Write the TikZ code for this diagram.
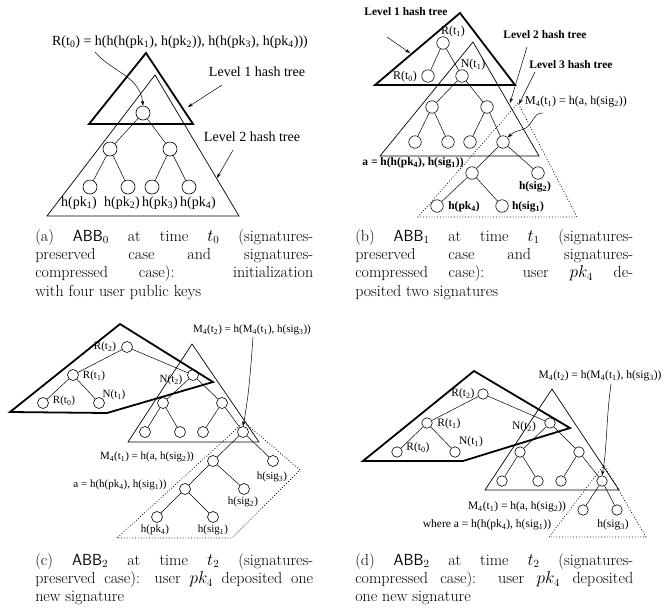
\documentclass[tikz,border=0pt]{standalone}
\usepackage{amsmath,amssymb}
\usepackage{fontspec}
\newfontfamily\tms{Liberation Serif}
\usetikzlibrary{arrows.meta,positioning,calc}
\newcommand{\sbs}[1]{\textsubscript{#1}}
\tolerance=10000
\hbadness=10000
\tikzset{
  hn/.style={circle, draw, inner sep=0pt, minimum size=#1, line width=0.6pt},
  lbl/.style={font=\tms\fontsize{#1}{#1}\selectfont, inner sep=0pt},
  blbl/.style={font=\tms\bfseries\fontsize{#1}{#1}\selectfont, inner sep=0pt},
  lvlone/.style={line width=1.8pt, line join=miter},
  lvltwo/.style={line width=0.7pt},
  lvlthree/.style={dotted, line width=0.8pt},
  ptr/.style={-{Stealth[length=5pt,width=3.5pt]}, line width=0.5pt},
  captxt/.style={anchor=north west, inner sep=0pt, text width=278pt, align=justify,
    font=\fontsize{16}{18.3}\selectfont},
}

\begin{document}
\begin{tikzpicture}[x=1pt, y=-1pt, line width=0.5pt]
\useasboundingbox (0,0) rectangle (664,614);

% (a)
\draw[lvlone] (146,53) -- (89,124) -- (193,124) -- cycle;
\draw[lvltwo] (155,75) -- (47,216) -- (239,216) -- cycle;
\node (aR) [hn=14pt] at (143,113) {};
\node (aL) [hn=14pt] at (110,149) {};
\node (aRt) [hn=14pt] at (170,149) {};
\node (aK1) [hn=14pt] at (90,187) {};
\node (aK2) [hn=14pt] at (128,187) {};
\node (aK3) [hn=14pt] at (152,187) {};
\node (aK4) [hn=14pt] at (189,187) {};
\node (aK1t) [lbl=14] at (79,203) {h(pk\sbs{1})};
\node (aK2t) [lbl=14] at (122,203) {h(pk\sbs{2})};
\node (aK3t) [lbl=14] at (160,203) {h(pk\sbs{3})};
\node (aK4t) [lbl=14] at (198,203) {h(pk\sbs{4})};
\node (aRoot) [lbl=14] at (180,42) {R(t\sbs{0}) = h(h(h(pk\sbs{1}), h(pk\sbs{2})), h(h(pk\sbs{3}), h(pk\sbs{4})))};
\node (aLv1) [lbl=14] at (257,72) {Level 1 hash tree};
\node (aLv2) [lbl=14] at (252,137) {Level 2 hash tree};
\coordinate (aC) at (95,52);
\coordinate (aA1s) at (222,85);
\coordinate (aA1e) at (188,107);
\coordinate (aA2s) at (233,150);
\coordinate (aA2e) at (217,178);
\draw (aR) -- (aL);
\draw (aR) -- (aRt);
\draw (aL) -- (aK1);
\draw (aL) -- (aK2);
\draw (aRt) -- (aK3);
\draw (aRt) -- (aK4);
\draw[ptr] (aC) .. controls (112,72) and (140,76) .. (aR.north);
\draw[ptr] (aA1s) -- (aA1e);
\draw[ptr] (aA2s) -- (aA2e);

% (b)
\draw[lvlone] (460,13) -- (375,85) -- (515,85) -- cycle;
\draw[lvltwo] (473,42) -- (380,156) -- (539,156) -- cycle;
\draw[lvlthree] (518,103) -- (418,217) -- (577,217) -- cycle;
\node (bR1) [hn=12.5pt] at (443,43) {};
\node (bR0) [hn=12.5pt] at (428,76) {};
\node (bN1) [hn=12.5pt] at (462,76) {};
\node (bL) [hn=12.5pt] at (432,107) {};
\node (bRt) [hn=12.5pt] at (487,107) {};
\node (bK1) [hn=12.5pt] at (415,142) {};
\node (bK2) [hn=12.5pt] at (448,142) {};
\node (bK3) [hn=12.5pt] at (470,142) {};
\node (bK4) [hn=12.5pt] at (503,142) {};
\node (bA) [hn=12.5pt] at (472,173) {};
\node (bS2) [hn=12.5pt] at (538,173) {};
\node (bP4) [hn=12.5pt] at (437,206) {};
\node (bS1) [hn=12.5pt] at (502,206) {};
\node (bR1t) [lbl=12] at (453,32) {R(t\sbs{1})};
\node (bR0t) [lbl=12] at (405,77) {R(t\sbs{0})};
\node (bN1t) [lbl=12] at (473,65) {N(t\sbs{1})};
\node (bS2t) [blbl=11.5] at (535,187) {h(sig\sbs{2})};
\node (bP4t) [blbl=11.5] at (464,207) {h(pk\sbs{4})};
\node (bS1t) [blbl=11.5] at (528,207) {h(sig\sbs{1})};
\node (bAt) [blbl=11.5] at (413,163) {a = h(h(pk\sbs{4}), h(sig\sbs{1}))};
\node (bM1t) [lbl=12] at (576,102) {M\sbs{4}(t\sbs{1}) = h(a, h(sig\sbs{2}))};
\node (bLv1) [blbl=11.5] at (406,12) {Level 1 hash tree};
\node (bLv2) [blbl=11.5] at (545,35) {Level 2 hash tree};
\node (bLv3) [blbl=11.5] at (571,65) {Level 3 hash tree};
\coordinate (bA1s) at (387,37);
\coordinate (bA1e) at (410,53);
\coordinate (bA2s) at (527,47);
\coordinate (bA2e) at (510,103);
\coordinate (bA3s) at (535,72);
\coordinate (bA3e) at (519,104);
\coordinate (bC) at (543,113);
\draw (bR1) -- (bR0);
\draw (bR1) -- (bN1);
\draw (bN1) -- (bL);
\draw (bN1) -- (bRt);
\draw (bL) -- (bK1);
\draw (bL) -- (bK2);
\draw (bRt) -- (bK3);
\draw (bRt) -- (bK4);
\draw (bK4) -- (bA);
\draw (bK4) -- (bS2);
\draw (bA) -- (bP4);
\draw (bA) -- (bS1);
\draw[ptr] (bA1s) -- (bA1e);
\draw[ptr] (bA2s) -- (bA2e);
\draw[ptr] (bA3s) -- (bA3e);
\draw[ptr] (bC) .. controls (532,112) and (534,127) .. (521,130) .. controls (514,132) .. (bK4.north east);

% (c)
\draw[lvlone] (10,412) -- (120,324) -- (213,382) -- (107,413) -- cycle;
\draw[lvltwo] (192,344) -- (128,442) -- (259,442) -- cycle;
\draw[lvlthree] (244,422) -- (300,470) -- (232,538) -- (117,538) -- cycle;
\node (cR2) [hn=11pt] at (127,347) {};
\node (cR1) [hn=11pt] at (73,375) {};
\node (cR0) [hn=11pt] at (43,403) {};
\node (cN1) [hn=11pt] at (99,403) {};
\node (cN2) [hn=11pt] at (193,375) {};
\node (cL) [hn=11pt] at (163,403) {};
\node (cRt) [hn=11pt] at (222,403) {};
\node (cK1) [hn=11pt] at (145,432) {};
\node (cK2) [hn=11pt] at (180,432) {};
\node (cK3) [hn=11pt] at (203,432) {};
\node (cK4) [hn=11pt] at (243,432) {};
\node (cM1) [hn=11pt] at (213,461) {};
\node (cS3) [hn=11pt] at (273,461) {};
\node (cA) [hn=11pt] at (185,489) {};
\node (cS2) [hn=11pt] at (244,489) {};
\node (cP4) [hn=11pt] at (157,517) {};
\node (cS1) [hn=11pt] at (213,517) {};
\node (cR2t) [lbl=11] at (105,347) {R(t\sbs{2})};
\node (cR1t) [lbl=11] at (94,376) {R(t\sbs{1})};
\node (cR0t) [lbl=11] at (64,401) {R(t\sbs{0})};
\node (cN1t) [lbl=11] at (114,395) {N(t\sbs{1})};
\node (cN2t) [lbl=11] at (171,380) {N(t\sbs{2})};
\node (cS3t) [lbl=11] at (272,477) {h(sig\sbs{3})};
\node (cS2t) [lbl=11] at (243,502) {h(sig\sbs{2})};
\node (cP4t) [lbl=11] at (155,530) {h(pk\sbs{4})};
\node (cS1t) [lbl=11] at (213,530) {h(sig\sbs{1})};
\node (cM1t) [lbl=11] at (147,457) {M\sbs{4}(t\sbs{1}) = h(a, h(sig\sbs{2}))};
\node (cAt) [lbl=11] at (120,485) {a = h(h(pk\sbs{4}), h(sig\sbs{1}))};
\node (cM2t) [lbl=11] at (252,330) {M\sbs{4}(t\sbs{2}) = h(M\sbs{4}(t\sbs{1}), h(sig\sbs{3}))};
\coordinate (cC) at (253,337);
\draw (cR2) -- (cR1);
\draw (cR2) -- (cN2);
\draw (cR1) -- (cR0);
\draw (cR1) -- (cN1);
\draw (cN2) -- (cL);
\draw (cN2) -- (cRt);
\draw (cL) -- (cK1);
\draw (cL) -- (cK2);
\draw (cRt) -- (cK3);
\draw (cRt) -- (cK4);
\draw (cK4) -- (cM1);
\draw (cK4) -- (cS3);
\draw (cM1) -- (cA);
\draw (cM1) -- (cS2);
\draw (cA) -- (cP4);
\draw (cA) -- (cS1);
\draw[ptr] (cC) .. controls (250,380) and (248,400) .. (cK4.north);

% (d)
\draw[lvlone] (363,461) -- (474,371) -- (570,428) -- (463,461) -- cycle;
\draw[lvltwo] (552,389) -- (485,490) -- (619,490) -- cycle;
\draw[lvlthree] (604,465) -- (549,537) -- (646,537) -- cycle;
\node (dR2) [hn=10.5pt] at (483,394) {};
\node (dR1) [hn=10.5pt] at (427,423) {};
\node (dR0) [hn=10.5pt] at (397,452) {};
\node (dN1) [hn=10.5pt] at (455,452) {};
\node (dN2) [hn=10.5pt] at (550,423) {};
\node (dL) [hn=10.5pt] at (520,452) {};
\node (dRt) [hn=10.5pt] at (579,452) {};
\node (dK1) [hn=10.5pt] at (502,481) {};
\node (dK2) [hn=10.5pt] at (538,481) {};
\node (dK3) [hn=10.5pt] at (561,481) {};
\node (dK4) [hn=10.5pt] at (602,481) {};
\node (dM1) [hn=10.5pt] at (583,510) {};
\node (dS3) [hn=10.5pt] at (617,510) {};
\node (dR2t) [lbl=11.5] at (463,394) {R(t\sbs{2})};
\node (dR1t) [lbl=11.5] at (449,424) {R(t\sbs{1})};
\node (dR0t) [lbl=11.5] at (418,448) {R(t\sbs{0})};
\node (dN1t) [lbl=11.5] at (471,442) {N(t\sbs{1})};
\node (dN2t) [lbl=11.5] at (524,427) {N(t\sbs{2})};
\node (dS3t) [lbl=11.5] at (613,525) {h(sig\sbs{3})};
\node (dM1t) [lbl=11.5] at (517,507) {M\sbs{4}(t\sbs{1}) = h(a, h(sig\sbs{2}))};
\node (dAt) [lbl=11.5] at (487,525) {where a = h(h(pk\sbs{4}), h(sig\sbs{1}))};
\node (dM2t) [lbl=11.5] at (600,376) {M\sbs{4}(t\sbs{2}) = h(M\sbs{4}(t\sbs{1}), h(sig\sbs{3}))};
\coordinate (dC) at (611,384);
\draw (dR2) -- (dR1);
\draw (dR2) -- (dN2);
\draw (dR1) -- (dR0);
\draw (dR1) -- (dN1);
\draw (dN2) -- (dL);
\draw (dN2) -- (dRt);
\draw (dL) -- (dK1);
\draw (dL) -- (dK2);
\draw (dRt) -- (dK3);
\draw (dRt) -- (dK4);
\draw (dK4) -- (dM1);
\draw (dK4) -- (dS3);
\draw[ptr] (dC) .. controls (606,420) and (607,450) .. (dK4.north);

% captions
\node (capa) [captxt] at (35,229) {(a) $\mathsf{ABB}_0$ at time $t_0$ (signatures-\linebreak preserved case and signatures-\linebreak compressed case): initialization\linebreak with four user public keys};
\node (capb) [captxt] at (355,229) {(b) $\mathsf{ABB}_1$ at time $t_1$ (signatures-\linebreak preserved case and signatures-\linebreak compressed case): user $pk_4$ de-\linebreak posited two signatures};
\node (capc) [captxt] at (35,553) {(c) $\mathsf{ABB}_2$ at time $t_2$ (signatures-\linebreak preserved case): user $pk_4$ deposited one\linebreak new signature};
\node (capd) [captxt] at (355,553) {(d) $\mathsf{ABB}_2$ at time $t_2$ (signatures-\linebreak compressed case): user $pk_4$ deposited\linebreak one new signature};
\end{tikzpicture}
\end{document}
